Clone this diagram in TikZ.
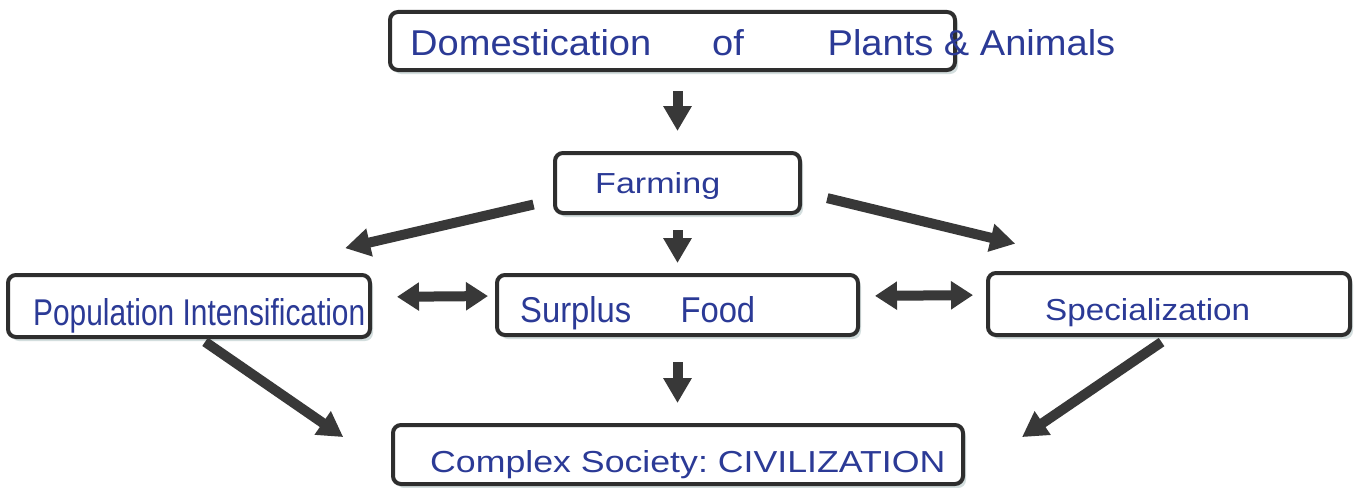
\documentclass[tikz,border=0pt]{standalone}
\usepackage{fontspec}
\setmainfont{Liberation Sans}
\usetikzlibrary{arrows.meta,shadows,calc}
\definecolor{ink}{HTML}{2B3A96}
\definecolor{boxline}{HTML}{2E2E2E}
\definecolor{arrowc}{HTML}{383838}
\definecolor{glow}{HTML}{C9D6D6}
\newcommand{\hwtxt}[3]{\resizebox{#1pt}{#2pt}{#3}}
\begin{document}
\begin{tikzpicture}[x=1pt,y=-1pt,
  boxnode/.style={draw=boxline, line width=4pt, rounded corners=8pt, fill=white, inner sep=0pt,
    drop shadow={shadow xshift=3pt, shadow yshift=-4pt, fill=glow, opacity=0.8}},
  hwtext/.style={text=ink, inner sep=0pt, anchor=base west},
  fat/.style={draw=arrowc, line width=10pt, -{Triangle[length=25pt,width=27pt]}},
  fatboth/.style={draw=arrowc, line width=10pt, {Triangle[length=22pt,width=27pt]}-{Triangle[length=22pt,width=27pt]}},
]
\useasboundingbox[fill=white] (0,0) rectangle (1359,487);

% boxes
\node[boxnode, minimum width=565pt, minimum height=58pt] (dom) at (672.5,41) {};
\node[boxnode, minimum width=245pt, minimum height=60pt] (farm) at (677.5,183) {};
\node[boxnode, minimum width=362pt, minimum height=62pt] (pop) at (189,306) {};
\node[boxnode, minimum width=361pt, minimum height=60pt] (surp) at (677.5,305) {};
\node[boxnode, minimum width=362pt, minimum height=62pt] (spec) at (1169,304) {};
\node[boxnode, minimum width=570pt, minimum height=59pt] (cplx) at (678,454.5) {};

% texts
\node[hwtext] (tdom) at (410,56) {\hwtxt{705}{26}{Domestication\hspace{1.6em}of\hspace{2.2em}Plants \& Animals}};
\node[hwtext] (tfarm) at (595,193) {\hwtxt{125}{21}{Farming}};
\node[hwtext] (tpop) at (33,325) {\hwtxt{332}{27}{Population Intensification}};
\node[hwtext] (tsurp) at (520,322) {\hwtxt{235}{26}{Surplus\hspace{1.5em}Food}};
\node[hwtext] (tspec) at (1045,320) {\hwtxt{205}{22}{Specialization}};
\node[hwtext] (tcplx) at (430,472) {\hwtxt{515}{22}{Complex Society:\ CIVILIZATION}};

% arrows
\draw[fat, shorten <=19pt, shorten >=20pt] (farm.north |- dom.south) -- (farm.north);
\draw[fat, shorten <=15pt, shorten >=10pt] (farm.south) -- (farm.south |- surp.north);
\draw[fat, shorten <=25pt, shorten >=20pt] (surp.south) -- (surp.south |- cplx.north);
\draw[fat, shorten <=20pt, shorten >=110pt] ([yshift=-17pt]farm.west) -- ([xshift=49pt]pop.north);
\draw[fat, shorten <=26pt, shorten >=116pt] ([yshift=-9pt]farm.east) -- ([xshift=-41pt]spec.north);
\draw[fat, shorten <=5pt, shorten >=58pt] ([xshift=12pt]pop.south) -- ([yshift=-15.5pt]cplx.west);
\draw[fat, shorten <=9pt, shorten >=69pt] (spec.south) -- ([yshift=-21.4pt]cplx.east);
\draw[fatboth, shorten <=25pt, shorten >=7pt] ([yshift=9pt]pop.east) -- ([yshift=9pt]surp.west);
\draw[fatboth, shorten <=15pt, shorten >=13pt] ([yshift=9pt]surp.east) -- ([yshift=9pt]spec.west);
\end{tikzpicture}
\end{document}
